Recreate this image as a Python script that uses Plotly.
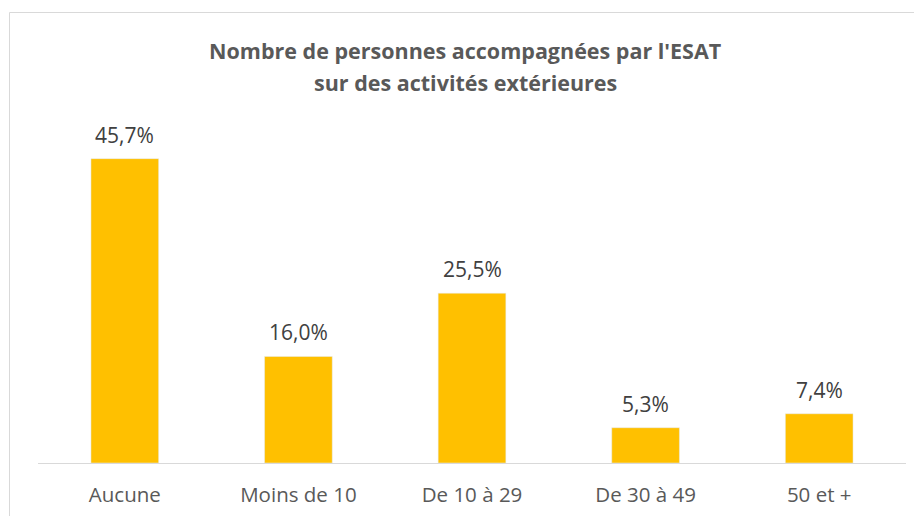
import plotly.graph_objects as go

categories = ["Aucune", "Moins de 10", "De 10 à 29", "De 30 à 49", "50 et +"]
values = [45.7, 16.0, 25.5, 5.3, 7.4]
title_lines = ["Nombre de personnes accompagnées par l'ESAT", "sur des activités extérieures"]

labels = [f"{v:.1f}".replace(".", ",") + "%" for v in values]
FONT = "Open Sans"

# page body has an 8px margin, so the figure is offset by 8px
W, H = 914, 508
L, R, T, B = 30, 16, 122, 53
PW, PH = W - L - R, H - T - B
BASE = H - B  # baseline y in figure px

fig = go.Figure(go.Bar(
    x=categories, y=values, marker_color="#FFC000", width=0.39,
    hoverinfo="skip",
))

for c, v, t in zip(categories, values, labels):
    fig.add_annotation(x=c, y=v, text=t, showarrow=False, yshift=24,
                       font=dict(family=FONT, size=21, color="#404040"))

for line, ypx in zip(title_lines, [50 - 8, 83 - 8]):
    fig.add_annotation(xref="paper", yref="paper", x=(465 - 8 - L) / PW, y=(BASE - ypx) / PH,
                       text="<b>" + line + "</b>", showarrow=False,
                       font=dict(family=FONT, size=21.5, color="#595959"),
                       xanchor="center", yanchor="middle")

fig.add_shape(type="rect", xref="paper", yref="paper",
              x0=(1.5 - L) / PW, x1=(W + 20 - L) / PW,
              y0=(BASE - H - 20) / PH, y1=(BASE - 4.5) / PH,
              line=dict(color="#D9D9D9", width=1), fillcolor="rgba(0,0,0,0)", layer="below")

fig.update_layout(
    width=W, height=H,
    margin=dict(l=L, r=R, t=T, b=B, autoexpand=False),
    paper_bgcolor="white", plot_bgcolor="white",
    showlegend=False,
)
fig.update_xaxes(showline=True, linecolor="#D9D9D9", linewidth=1, ticks="",
                 ticklabelstandoff=13, automargin=False,
                 tickfont=dict(family=FONT, size=20.5, color="#595959"), fixedrange=True)
fig.update_yaxes(range=[0, 50], visible=False, showgrid=False, fixedrange=True, automargin=False)

fig.write_html("out.html")
